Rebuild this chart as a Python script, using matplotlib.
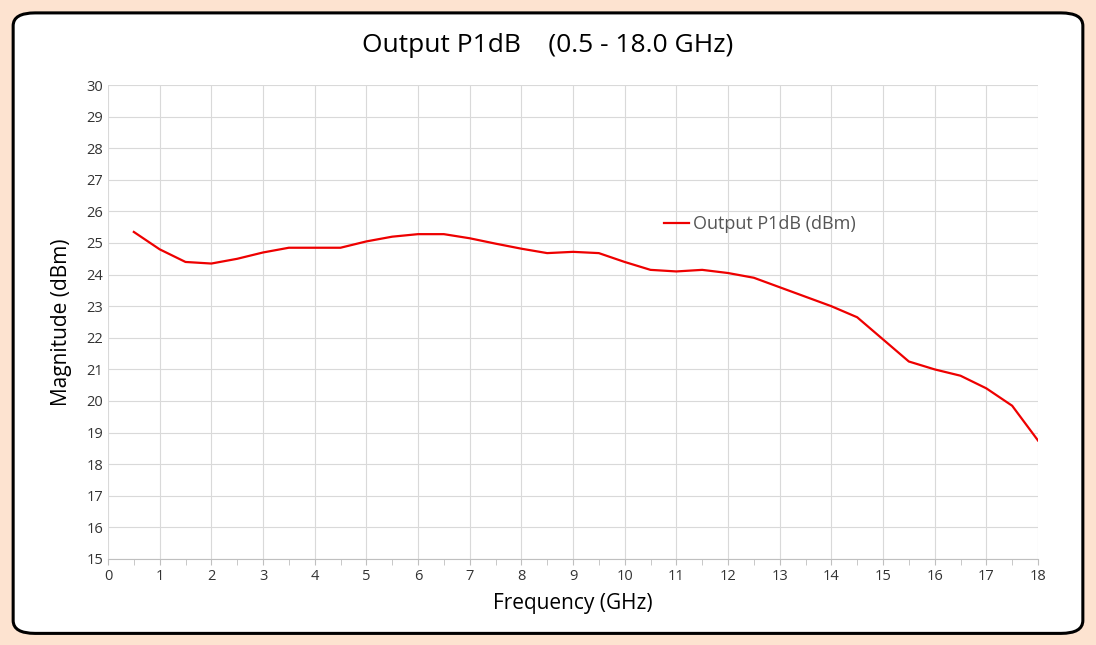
import matplotlib
matplotlib.use("Agg")
import matplotlib.pyplot as plt
from matplotlib.patches import FancyBboxPatch

freq_ghz = [0.5, 1, 1.5, 2, 2.5, 3, 3.5, 4, 4.5, 5, 5.5, 6, 6.5, 7, 7.5, 8, 8.5, 9,
            9.5, 10, 10.5, 11, 11.5, 12, 12.5, 13, 13.5, 14, 14.5, 15, 15.5, 16,
            16.5, 17, 17.5, 18]
p1db_dbm = [25.35, 24.8, 24.4, 24.35, 24.5, 24.7, 24.85, 24.85, 24.85, 25.05, 25.2,
            25.28, 25.28, 25.15, 24.98, 24.82, 24.68, 24.72, 24.68, 24.4, 24.15,
            24.1, 24.15, 24.05, 23.9, 23.6, 23.3, 23.0, 22.65, 21.95, 21.25, 21.0,
            20.8, 20.4, 19.85, 18.75]

plt.rcParams["font.family"] = "Open Sans"
fig = plt.figure(figsize=(10.96, 6.45), dpi=100)
fig.patch.set_facecolor("#fde3d0")
fig.patches.append(FancyBboxPatch((0.012, 0.018), 0.976, 0.962, boxstyle="round,pad=0,rounding_size=0.02",
                                  transform=fig.transFigure, facecolor="white", edgecolor="black",
                                  linewidth=2.2, zorder=-10))

ax = fig.add_axes([108 / 1096, 1 - 559 / 645, 930 / 1096, 474 / 645])
ax.set_zorder(5)
ax.set_facecolor("none")
ax.plot(freq_ghz, p1db_dbm, color="#ee0000", linewidth=1.6, label="Output P1dB (dBm)")
ax.set_xlim(0, 18)
ax.set_ylim(15, 30)
ax.set_xticks(range(0, 19))
ax.set_xticks([x + 0.5 for x in range(18)], minor=True)
ax.set_yticks(range(15, 31))
ax.grid(True, color="#d9d9d9", linewidth=0.8)
for s in ["top", "right", "left"]:
    ax.spines[s].set_visible(False)
ax.spines["bottom"].set_color("#bfbfbf")
ax.tick_params(axis="y", length=0, labelsize=10.5, colors="#333333")
ax.tick_params(axis="x", which="both", length=4, color="#bfbfbf", labelsize=10.5, labelcolor="#333333")
ax.set_xlabel("Frequency (GHz)", fontsize=15, labelpad=6)
ax.set_ylabel("Magnitude (dBm)", fontsize=15, labelpad=10)
ax.legend(loc="upper left", bbox_to_anchor=(0.58, 0.76), frameon=False, fontsize=13,
          handlelength=1.4, handletextpad=0.2, labelcolor="#555555")
fig.text(0.5, 0.93, "Output P1dB    (0.5 - 18.0 GHz)", ha="center", va="center", fontsize=19)
fig.savefig("out.png", dpi=100, facecolor=fig.get_facecolor())
